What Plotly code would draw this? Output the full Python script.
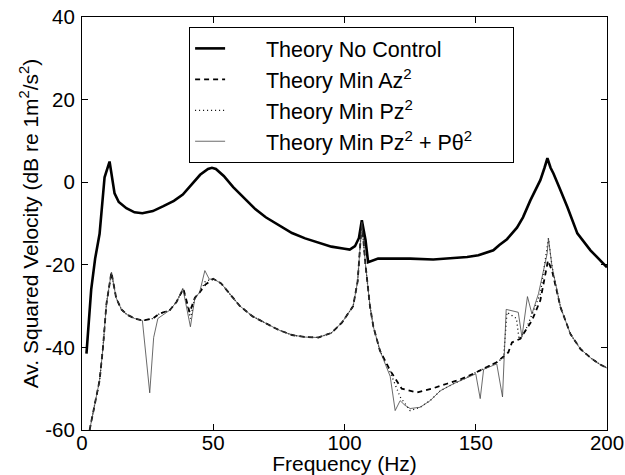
import plotly.graph_objects as go

# ---- data ----
nc_freq = [1.7, 3.5, 5, 6.7, 8.6, 10.5, 12.4, 14, 16.9, 20, 23, 27, 31, 35, 38.4, 42, 45, 48,
           49.5, 51, 54, 57.6, 62, 66, 70, 75, 80, 85, 90.6, 95, 100, 102, 104, 105.5, 106.6,
           108, 109, 112.8, 120, 125, 133.8, 140, 146.7, 151, 156.7, 159, 161.9, 165.7, 168,
           170.8, 174.6, 176.2, 177.3, 178.5, 179.6, 182, 184.9, 188.7, 193.7, 200]
nc_db = [-41.5, -26, -18.5, -12.5, 1.2, 5, -2.7, -4.8, -6.3, -7.3, -7.5, -7, -5.8, -4.5, -3,
         -0.5, 1.8, 3.2, 3.5, 3.2, 1.5, -1.2, -4, -6.5, -8.5, -10.5, -12.3, -13.6, -14.8, -15.6,
         -16.1, -16.3, -15.5, -13.5, -9.2, -14, -19.4, -18.5, -18.5, -18.5, -18.7, -18.4, -18.1,
         -17.7, -16.5, -15.2, -13.8, -11, -8.5, -4.4, 0.5, 3.5, 5.8, 3.5, 2.1, -1.5, -6, -12.4,
         -16.5, -20.6]

az_freq = [2.9, 4.8, 6.7, 8, 9.3, 11.2, 13, 15, 17, 20, 23, 27, 29.6, 33.4, 36, 38.6, 41, 43,
           44.8, 47, 50, 53, 57, 60, 65, 70.8, 75, 80, 85, 90, 95, 99, 102, 103.3, 105, 106.6,
           108, 109.7, 111, 113.5, 117.4, 121.8, 127.6, 133.3, 139, 144, 149, 154.3, 158,
           162.4, 163.8, 167, 168.9, 171.4, 174.6, 177.5, 179.1, 182.3, 186.1, 189.9, 193.7,
           197, 200]
az_db = [-60, -54, -48, -40, -29.5, -21.8, -28, -30.8, -32, -33, -33.5, -33, -31.8, -31, -29,
         -25.8, -31.5, -28, -26.7, -24.8, -23.4, -24.5, -27.5, -29.9, -32.5, -34.5, -35.8, -37,
         -37.5, -37.6, -36.5, -34, -31, -30, -24, -9.7, -20, -30, -35, -40.8, -45.6, -50, -50.9,
         -50, -48.8, -47.8, -46.4, -44.8, -43.6, -41.2, -38.8, -37.9, -36, -33.5, -28.6, -19,
         -21.5, -30.3, -36.8, -40.4, -42.5, -44, -45]

pz_freq = [2.9, 4.8, 6.7, 8, 9.3, 11.2, 13, 15, 17, 20, 23, 27, 29.6, 33.4, 36, 38.6, 41.3, 43,
           44.8, 47, 50, 53, 57, 60, 65, 70.8, 75, 80, 85, 90, 95, 99, 102, 103.3, 105, 106.6,
           108, 109.7, 111, 113.5, 117.4, 121.2, 125, 128.8, 132.6, 136.5, 141.5, 146, 149,
           154.3, 158, 160.6, 161.9, 165.5, 166.5, 168.9, 171.4, 174.6, 177.7, 179.1, 182.3,
           186.1, 189.9, 193.7, 197, 200]
pz_db = [-60, -54, -48, -40, -29.5, -21.8, -28, -30.8, -32, -33, -33.5, -33, -31.8, -31, -29,
         -25.8, -33, -28, -26.7, -24, -23.4, -24.5, -27.5, -29.9, -32.5, -34.5, -35.8, -37,
         -37.5, -37.6, -36.5, -34, -31, -30, -24, -9.7, -20, -30, -35, -40.8, -46, -52, -55.3,
         -54.5, -52.9, -50.5, -48.8, -47.5, -46.4, -44.8, -43.6, -42.5, -31.5, -33, -38, -36,
         -32, -27, -13.6, -20.6, -30.3, -36.8, -40.4, -42.5, -44, -45]

pzt_freq = [2.9, 4.8, 6.7, 8, 9.3, 11.2, 13, 15, 17, 20, 23, 25.8, 27.3, 28.9, 33.4, 36, 38.4,
            41.3, 43, 44.8, 46.8, 48.5, 50, 53, 57, 60, 65, 70.8, 75, 80, 85, 90, 95, 99, 102,
            103.3, 105, 106.6, 108, 109.7, 111, 113.5, 117.4, 119.3, 121.2, 123, 125, 128.8,
            132.6, 136.5, 141.5, 146, 150, 151.7, 153, 158, 160.2, 161.6, 166.2, 167.6, 169.7,
            171.4, 173.9, 177.2, 177.7, 179.1, 182.3, 186.1, 189.9, 193.7, 197, 200]
pzt_db = [-60, -54, -48, -40, -29.5, -21.8, -28, -30.8, -32, -33, -33.5, -51, -37.6, -33, -31,
          -29, -25.7, -35, -28, -26.7, -21.4, -23.5, -23.4, -24.5, -27.5, -29.9, -32.5, -34.5,
          -35.8, -37, -37.5, -37.6, -36.5, -34, -31, -30, -24, -9.7, -20, -30, -35, -40.8, -47,
          -55.3, -52.9, -54, -54.8, -54.5, -52.9, -50.5, -48.8, -47.5, -46.4, -52.4, -45.3, -44,
          -52, -30.8, -31.5, -37.5, -27.7, -31.9, -27, -17.3, -13.6, -20.6, -30.3, -36.8, -40.4,
          -42.5, -44, -45]

x_ticks = [0, 50, 100, 150, 200]
y_ticks = [-60, -40, -20, 0, 20, 40]

NB = "\u00a0"
names = [NB * 6 + "Theory No Control",
         NB * 6 + "Theory Min Az<sup>2</sup>",
         NB * 6 + "Theory Min Pz<sup>2</sup>",
         NB * 6 + "Theory Min Pz<sup>2</sup> + Pθ<sup>2</sup>" + NB * 6]

FONT = "Liberation Sans, Arial, Helvetica, sans-serif"

fig = go.Figure()
fig.add_trace(go.Scatter(x=nc_freq, y=nc_db, mode="lines", name=names[0],
                         line=dict(color="black", width=2.6)))
fig.add_trace(go.Scatter(x=az_freq, y=az_db, mode="lines", name=names[1],
                         line=dict(color="black", width=1.8, dash="5px,4px")))
fig.add_trace(go.Scatter(x=pz_freq, y=pz_db, mode="lines", name=names[2],
                         line=dict(color="black", width=1.3, dash="1px,3px")))
fig.add_trace(go.Scatter(x=pzt_freq, y=pzt_db, mode="lines", name=names[3],
                         line=dict(color="#444444", width=0.8)))

axis_common = dict(showline=True, linecolor="black", linewidth=1.2, mirror="ticks",
                   ticks="inside", ticklen=6, tickwidth=1, tickcolor="black",
                   showgrid=False, zeroline=False, automargin=True,
                   tickfont=dict(family=FONT, size=20.5, color="black"))

fig.update_xaxes(range=[0, 200], tickvals=x_ticks, ticktext=[str(v) for v in x_ticks],
                 title=dict(text="Frequency (Hz)", font=dict(family=FONT, size=21, color="black"),
                            standoff=2),
                 ticklabelstandoff=-6, **axis_common)
fig.update_yaxes(range=[-60, 40], tickvals=y_ticks, ticktext=[str(v) for v in y_ticks],
                 title=dict(text="Av. Squared Velocity (dB re 1m<sup>2</sup>/s<sup>2</sup>)",
                            font=dict(family=FONT, size=21, color="black"), standoff=0),
                 ticklabelstandoff=2, **axis_common)

fig.update_layout(
    width=625, height=475,
    margin=dict(l=82, r=18, t=17, b=45, autoexpand=False),
    paper_bgcolor="white", plot_bgcolor="white",
    font=dict(family=FONT, color="black"),
    legend=dict(x=0.204, y=0.976, xanchor="left", yanchor="top",
                bgcolor="white", bordercolor="black", borderwidth=1,
                font=dict(family=FONT, size=21.5, color="black"),
                tracegroupgap=0),
    showlegend=True,
)

fig.write_html("out.html", config={"displayModeBar": False},
               post_script="document.body.style.margin='0';")
